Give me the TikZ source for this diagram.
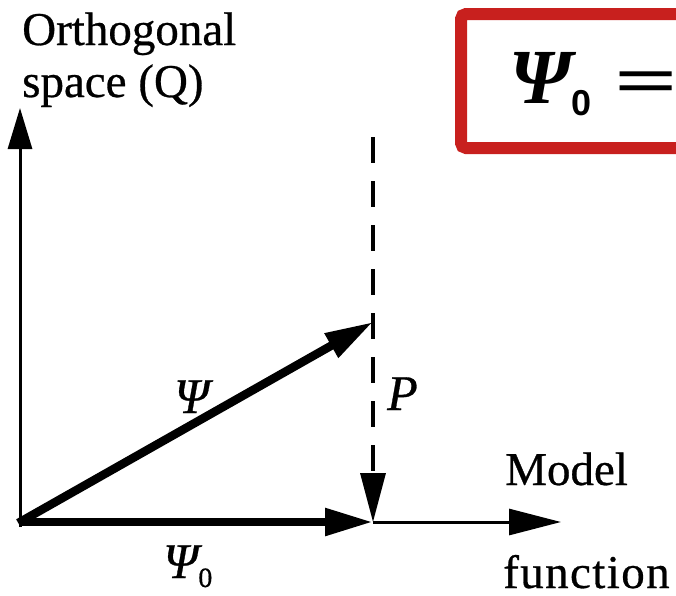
\documentclass[tikz,border=0pt]{standalone}
\usepackage{fontspec}
\setmainfont{Liberation Serif}
\newfontfamily\heavy{Liberation Serif}[FakeBold=0.6]
\newfontfamily\boxsans{Liberation Sans}
\usetikzlibrary{arrows.meta}
\definecolor{boxred}{RGB}{200,32,30}
\begin{document}
\begin{tikzpicture}[x=1pt,y=-1pt,
  txt/.style={inner sep=0pt, anchor=base west, font=\heavy\fontsize{47}{50}\selectfont},
  sym/.style={inner sep=0pt, anchor=base west, font=\heavy\fontsize{50}{54}\selectfont\itshape},
  thickvec/.style={line width=8.5pt, -{Triangle[length=48pt,width=26pt]}},
  axisline/.style={line width=3pt},
  dashline/.style={line width=3.4pt, dash pattern=on 26pt off 18pt, -{Triangle[length=49pt,width=25pt]}}]
\clip (0,0) rectangle (676,595);
\useasboundingbox (0,0) rectangle (676,595);
% points
\coordinate (O) at (20,522);
\coordinate (Obot) at (20,527);
\coordinate (Qtip) at (20,108);
\coordinate (F) at (373,522);
\coordinate (T) at (373,322);
\coordinate (Dtop) at (373,137);
\coordinate (Mtip) at (561,522);
% axes
\draw[axisline, -{Triangle[length=41pt,width=24pt]}] (Obot) -- (Qtip);
\draw[axisline, -{Triangle[length=52pt,width=26pt]}] (F) -- (Mtip);
% vectors
\draw[thickvec] (O) -- (F);
\draw[thickvec, shorten <=-2pt] (O) -- (T);
\draw[dashline] (Dtop) -- (F);
% labels
\node[txt] (orth) at (22,45) {Orthogonal};
\node[txt] (space) at (22,97) {space (Q)};
\node[txt] (model) at (505,485) {Model};
\node[txt] (func) at (503,588) {\addfontfeatures{LetterSpace=3}function};
\node[sym] (psi) at (174,413) {Ψ};
\node[sym] (p) at (387,410) {P};
\node[sym] (psi0) at (163,578) {Ψ\raisebox{-9pt}{\upshape\fontsize{28}{30}\selectfont 0}};
% red box
\draw[boxred, line width=12pt, rounded corners=5pt] (700,148) -- (461,148) -- (461,14) -- (700,14);
\node[inner sep=0pt, anchor=base west, font=\fontsize{78}{80}\selectfont\bfseries\itshape] (boxpsi) at (509,103) {Ψ\raisebox{-12pt}{\upshape\boxsans\bfseries\fontsize{36}{38}\selectfont 0}};
\node[inner sep=0pt, anchor=base west, font=\fontsize{70}{72}\selectfont\bfseries] (eq) at (614,104) {\scalebox{1.6}[1]{=}};
\end{tikzpicture}
\end{document}
